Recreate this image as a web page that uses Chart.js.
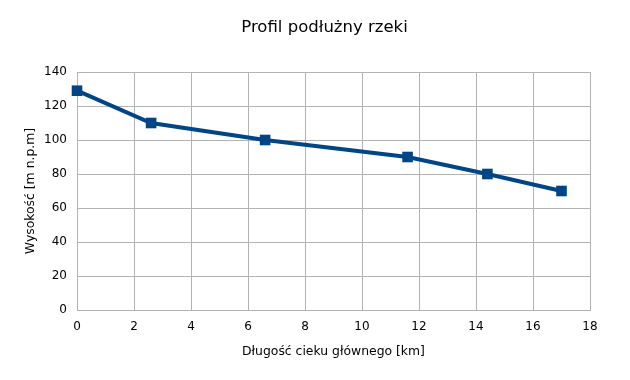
<!DOCTYPE html>
<html><head><meta charset="utf-8">
<script src="https://cdn.jsdelivr.net/npm/chart.js@4"></script>
<style>html,body{margin:0;padding:0;background:#fff}#wrap{width:630px;height:380px}</style>
</head><body><div id="wrap"><canvas id="c" width="630" height="380"></canvas></div>
<script>
const distanceKm = [0, 2.6, 6.6, 11.6, 14.4, 17];
const elevationM = [129, 110, 100, 90, 80, 70];
const chartTitle = "Profil podłużny rzeki";
const xTitle = "Długość cieku głównego [km]";
const yTitle = "Wysokość [m n.p.m]";

const points = distanceKm.map((x, i) => ({x: x, y: elevationM[i]}));
const FONT = "'DejaVu Sans', sans-serif";
const GRID = "#b3b3b3";
const BLUE = "#004586";

const titlePlugin = {
  id: 'customTitle',
  afterDraw(chart) {
    const ctx = chart.ctx;
    ctx.save();
    ctx.font = "16.5px " + FONT;
    ctx.fillStyle = '#000';
    ctx.textAlign = 'center';
    ctx.textBaseline = 'middle';
    ctx.fillText(chartTitle, 324.5, 28);
    ctx.restore();
  }
};

new Chart(document.getElementById('c'), {
  type: 'scatter',
  data: { datasets: [{
    data: points, showLine: true, borderColor: BLUE, backgroundColor: BLUE,
    borderWidth: 4, pointStyle: 'rect', pointRadius: 7.5, pointBorderWidth: 0,
    pointBackgroundColor: BLUE, pointHoverRadius: 7.5, clip: false
  }]},
  plugins: [titlePlugin],
  options: {
    responsive: false, animation: false, devicePixelRatio: 1,
    layout: { padding: { left: 20, right: 40, top: 72, bottom: 0 } },
    plugins: {
      legend: { display: false }, tooltip: { enabled: false }, title: { display: false }
    },
    scales: {
      x: { type: 'linear', min: 0, max: 18,
        ticks: { stepSize: 2, color: '#000', font: { family: FONT, size: 12 }, padding: 10 },
        grid: { color: GRID, drawTicks: false }, border: { color: GRID },
        title: { display: true, text: xTitle, color: '#000', font: { family: FONT, size: 12.4 }, padding: { top: 4, bottom: 21 } },
        afterFit: s => { s.height = 70; }
      },
      y: { min: 0, max: 140,
        ticks: { stepSize: 20, color: '#000', font: { family: FONT, size: 12 }, padding: 10 },
        grid: { color: GRID, drawTicks: false }, border: { color: GRID },
        title: { display: true, text: yTitle, color: '#000', font: { family: FONT, size: 12.4 }, padding: { top: 3, bottom: 4 } },
        afterFit: s => { s.width = 57; }
      }
    }
  }
});
</script></body></html>
